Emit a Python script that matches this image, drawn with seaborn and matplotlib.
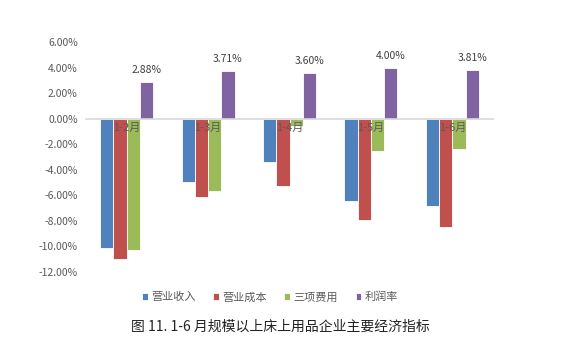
import pandas as pd
import seaborn as sns
import matplotlib.pyplot as plt
from matplotlib.ticker import FuncFormatter

# 数据
months = ["1-2月", "1-3月", "1-4月", "1-5月", "1-6月"]
revenue = [-10.10, -4.96, -3.37, -6.44, -6.81]
cost = [-10.98, -6.13, -5.24, -7.93, -8.48]
expenses = [-10.27, -5.69, -0.60, -2.56, -2.37]
profit_rate = [2.88, 3.71, 3.60, 4.00, 3.81]
series = ["营业收入", "营业成本", "三项费用", "利润率"]
colors = ["#4F81BD", "#C0504D", "#9BBB59", "#8064A2"]

df = pd.DataFrame({"月份": months, series[0]: revenue, series[1]: cost,
                   series[2]: expenses, series[3]: profit_rate})
long = df.melt(id_vars="月份", var_name="指标", value_name="值")

sns.set_style("white")
plt.rcParams['font.family'] = ['Noto Sans CJK SC', 'DejaVu Sans']

fig = plt.figure(figsize=(5.67, 3.52), dpi=100)
ax = fig.add_axes([0.1517, 0.2273, 0.7178, 0.6534])
sns.barplot(data=long, x="月份", y="值", hue="指标", palette=colors, saturation=1,
            width=0.65, ax=ax, edgecolor="white", linewidth=0.6, legend=True)

ax.set_ylim(-12, 6)
ax.set_yticks(range(-12, 7, 2))
ax.yaxis.set_major_formatter(FuncFormatter(lambda v, p: f"{v:.2f}%"))
ax.set_xlabel("")
ax.set_ylabel("")
ax.set_axisbelow(False)
for s in ["top", "right", "left"]:
    ax.spines[s].set_visible(False)
ax.spines["bottom"].set_position(("data", 0))
ax.spines["bottom"].set_color("#D9D9D9")
ax.spines["bottom"].set_linewidth(1.2)
ax.tick_params(axis="y", length=0, labelsize=7.5, colors="#595959", pad=6)
ax.tick_params(axis="x", length=0, labelsize=8, colors="#595959", pad=3)

# 利润率标签
ax.bar_label(ax.containers[3], labels=[f"{v:.2f}%" for v in profit_rate],
             padding=5, fontsize=7.5, color="#404040")

ax.legend(loc="center", bbox_to_anchor=(0.476, 0.156), bbox_transform=fig.transFigure,
          ncol=4, frameon=False, fontsize=8, handlelength=0.5, handleheight=0.5,
          handletextpad=0.3, columnspacing=1.6, labelcolor="#595959")

fig.text(0.494, 0.071, "图 11. 1-6 月规模以上床上用品企业主要经济指标",
         ha="center", va="center", fontsize=10, color="#222222")

fig.savefig("out.png", dpi=100)
